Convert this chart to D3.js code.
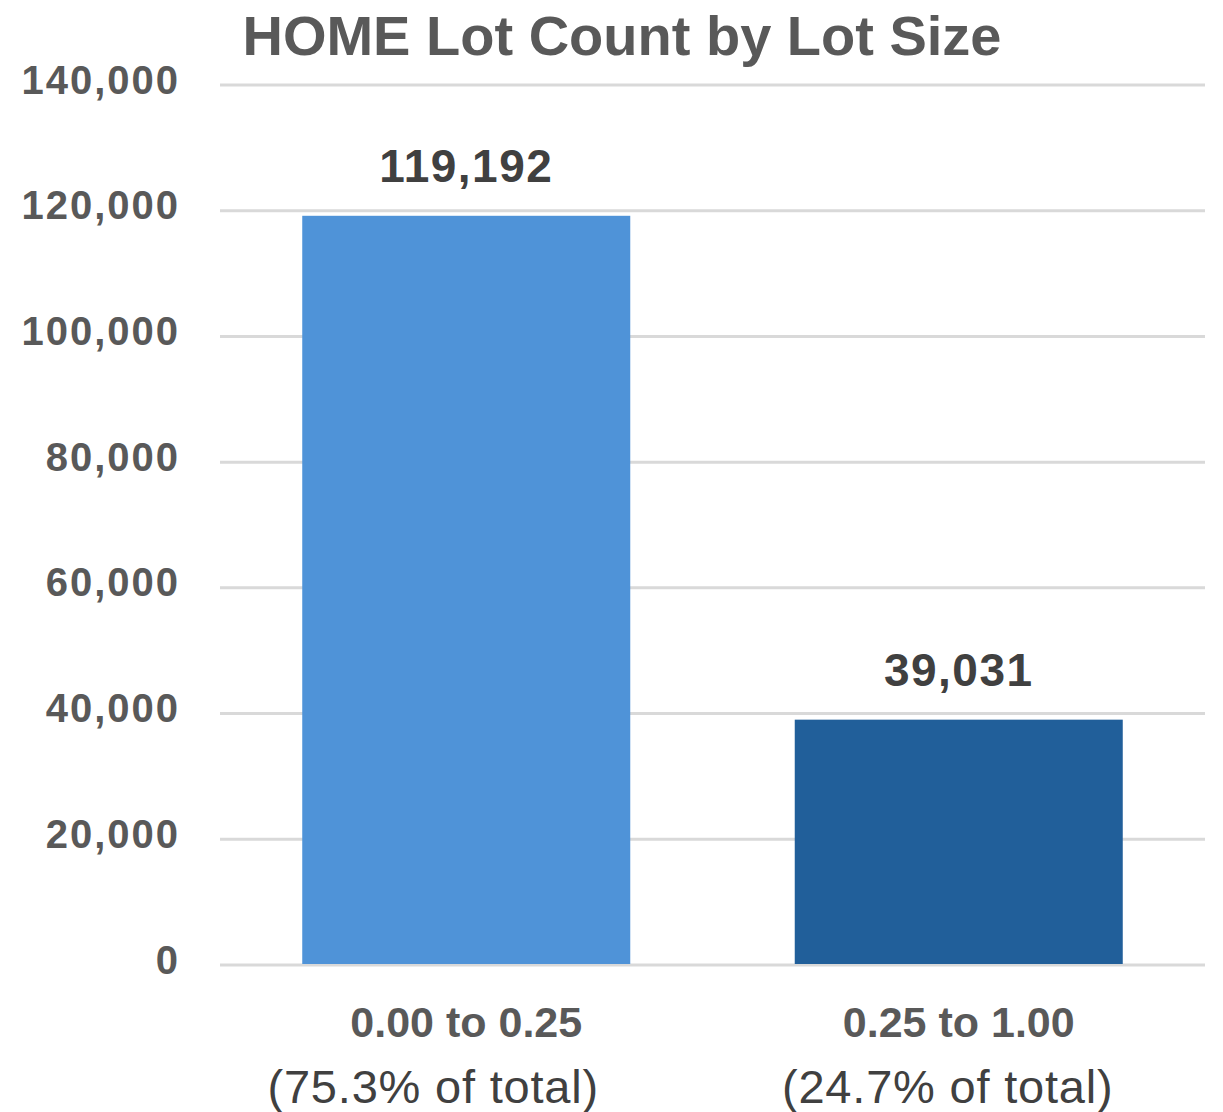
<!DOCTYPE html>
<html>
<head>
<meta charset="utf-8">
<script src="https://cdn.jsdelivr.net/npm/d3@7"></script>
<style>
  html, body { margin: 0; padding: 0; background: #fff; }
  svg { display: block; font-family: 'Liberation Sans', Arial, sans-serif; }
</style>
</head>
<body>
<div id="chart"></div>
<script>
// chart data
const categories = ['0.00 to 0.25', '0.25 to 1.00']
const shareLabels = ['(75.3% of total)', '(24.7% of total)']
const lotCounts = [119192, 39031]
const barColors = ['#4f93d8', '#215f9a']
const yTicks = [0, 20000, 40000, 60000, 80000, 100000, 120000, 140000]

const width = 1223
const height = 1112
const margin = { top: 85, right: 18, bottom: 147, left: 220 }
// the second label line sits a bit left of the bar centre in the original
const shareShift = [-33, -11]

const svg = d3.select('#chart')
  .append('svg')
  .attr('width', width)
  .attr('height', height)

const x = d3.scaleBand()
  .domain(categories)
  .range([margin.left, width - margin.right])
  .paddingInner(0.334)
  .paddingOuter(0.167)

const y = d3.scaleLinear()
  .domain([0, 140000])
  .range([height - margin.bottom, margin.top])

const fmt = d3.format(',')

// gridlines
svg.append('g')
  .selectAll('line')
  .data(yTicks)
  .enter()
  .append('line')
  .attr('x1', margin.left)
  .attr('x2', width - margin.right)
  .attr('y1', d => y(d))
  .attr('y2', d => y(d))
  .attr('stroke', '#d9d9d9')
  .attr('stroke-width', 3)

// y axis labels
const yAxis = d3.axisLeft(y).tickValues(yTicks).tickFormat(fmt).tickSize(0).tickPadding(0)
const yG = svg.append('g')
  .attr('transform', `translate(${margin.left - 40},0)`)
  .call(yAxis)
yG.select('.domain').remove()
yG.selectAll('text')
  .attr('font-size', '40px')
  .attr('font-weight', 'bold')
  .attr('letter-spacing', '2px')
  .attr('fill', '#595959')
  .attr('font-family', "'Liberation Sans', Arial, sans-serif")
  .attr('dy', '0.3em')
  .attr('y', -4)

// bars
svg.append('g')
  .selectAll('rect')
  .data(lotCounts)
  .enter()
  .append('rect')
  .attr('x', (d, i) => x(categories[i]))
  .attr('width', x.bandwidth())
  .attr('y', d => y(d))
  .attr('height', d => y(0) - y(d) - 1)
  .attr('fill', (d, i) => barColors[i])

// value labels
svg.append('g')
  .selectAll('text')
  .data(lotCounts)
  .enter()
  .append('text')
  .attr('x', (d, i) => x(categories[i]) + x.bandwidth() / 2)
  .attr('y', d => y(d) - 34)
  .attr('text-anchor', 'middle')
  .attr('font-size', '46px')
  .attr('font-weight', 'bold')
  .attr('letter-spacing', '1.5px')
  .attr('fill', '#404040')
  .text(d => fmt(d))

// category labels (two lines)
const catG = svg.append('g')
catG.selectAll('text.cat')
  .data(categories)
  .enter()
  .append('text')
  .attr('class', 'cat')
  .attr('x', d => x(d) + x.bandwidth() / 2)
  .attr('y', 1037)
  .attr('text-anchor', 'middle')
  .attr('font-size', '43px')
  .attr('font-weight', 'bold')
  .attr('fill', '#595959')
  .text(d => d)

catG.selectAll('text.share')
  .data(shareLabels)
  .enter()
  .append('text')
  .attr('class', 'share')
  .attr('x', (d, i) => x(categories[i]) + x.bandwidth() / 2 + shareShift[i])
  .attr('y', 1103)
  .attr('text-anchor', 'middle')
  .attr('font-size', '47px')
  .attr('letter-spacing', '0.8px')
  .attr('fill', '#404040')
  .text(d => d)

// title
svg.append('text')
  .attr('x', 622)
  .attr('y', 55)
  .attr('text-anchor', 'middle')
  .attr('font-size', '56px')
  .attr('font-weight', 'bold')
  .attr('fill', '#595959')
  .text('HOME Lot Count by Lot Size')
</script>
</body>
</html>
